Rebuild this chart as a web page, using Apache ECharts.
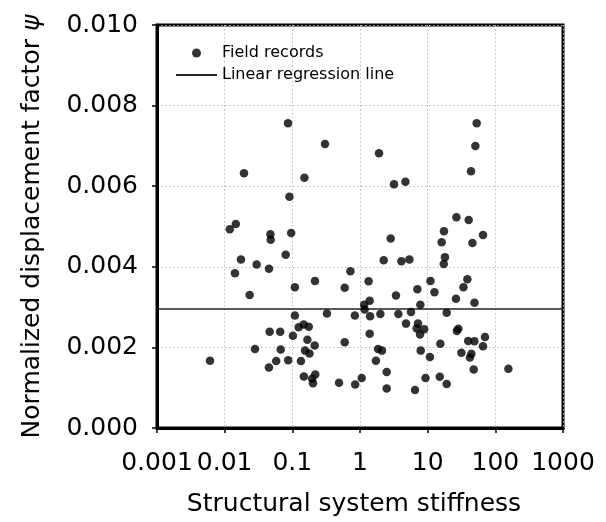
<!DOCTYPE html>
<html>
<head>
<meta charset="utf-8">
<script src="https://cdn.jsdelivr.net/npm/echarts@6/dist/echarts.min.js"></script>
<style>
  html, body { margin: 0; padding: 0; background: #fff; }
  #chart { width: 606px; height: 522px; }
</style>
</head>
<body>
<div id="chart"></div>
<script>
// Structural system stiffness of each field record
const stiffness = [
  0.0863, 0.304, 0.0193, 0.151, 0.0906, 1.91, 3.18, 4.69, 53.0, 50.7,
  43.7, 26.6, 40.4, 0.0146, 0.0119, 0.0474, 0.0479, 0.0962, 0.0174, 0.0142,
  0.0297, 0.0452, 0.0798, 0.0234, 0.109, 0.216, 0.594, 0.721, 0.109, 0.325,
  0.839, 0.124, 0.147, 0.175, 0.0462, 0.0662, 0.102, 0.167, 0.214, 0.594,
  0.0281, 0.0673, 0.154, 0.179, 0.00607, 0.0577, 0.0869, 0.134, 0.0451, 0.148,
  0.218, 0.196, 0.202, 0.490, 0.849, 2.84, 17.4, 16.1, 65.7, 45.9,
  2.24, 4.09, 5.37, 18.0, 17.3, 1.34, 11.0, 38.6, 7.05, 12.6,
  33.8, 3.40, 26.2, 1.39, 1.15, 1.17, 7.80, 49.2, 1.41, 2.00,
  3.69, 5.67, 19.1, 4.79, 7.19, 6.88, 8.89, 7.71, 27.0, 28.4,
  1.39, 15.4, 39.7, 49.0, 70.3, 65.7, 1.85, 2.11, 7.89, 31.5,
  44.3, 42.1, 10.8, 1.72, 47.9, 156, 2.48, 1.06, 9.29, 15.1,
  19.1, 2.48, 6.50
];

// Normalized displacement factor psi of each field record
const psi = [
  0.00756, 0.00705, 0.00632, 0.00621, 0.00574, 0.00682, 0.00605, 0.00611, 0.00756, 0.00700,
  0.00637, 0.00523, 0.00516, 0.00506, 0.00493, 0.00481, 0.00467, 0.00484, 0.00418, 0.00384,
  0.00406, 0.00395, 0.00430, 0.00330, 0.00349, 0.00365, 0.00348, 0.00389, 0.00279, 0.00284,
  0.00279, 0.00250, 0.00257, 0.00251, 0.00239, 0.00239, 0.00229, 0.00219, 0.00205, 0.00213,
  0.00196, 0.00195, 0.00192, 0.00185, 0.00167, 0.00166, 0.00168, 0.00166, 0.00150, 0.00128,
  0.00133, 0.00122, 0.00111, 0.00112, 0.00108, 0.00470, 0.00488, 0.00461, 0.00479, 0.00459,
  0.00416, 0.00414, 0.00418, 0.00424, 0.00407, 0.00364, 0.00365, 0.00369, 0.00344, 0.00337,
  0.00349, 0.00329, 0.00321, 0.00316, 0.00306, 0.00294, 0.00306, 0.00311, 0.00277, 0.00283,
  0.00283, 0.00288, 0.00286, 0.00259, 0.00259, 0.00247, 0.00245, 0.00232, 0.00241, 0.00246,
  0.00234, 0.00209, 0.00216, 0.00215, 0.00226, 0.00203, 0.00196, 0.00192, 0.00192, 0.00187,
  0.00184, 0.00175, 0.00176, 0.00167, 0.00145, 0.00147, 0.00139, 0.00124, 0.00124, 0.00127,
  0.00109, 0.00098, 0.00094
];

// Regression line: constant psi across the whole stiffness range
const regressionX = [0.001, 1000];
const regressionY = [0.00295, 0.00295];

const xTickLabels = ['0.001', '0.01', '0.1', '1', '10', '100', '1000'];
const yTickLabels = ['0.000', '0.002', '0.004', '0.006', '0.008', '0.010'];

const FONT = 'DejaVu Sans';

const chart = echarts.init(document.getElementById('chart'), null, { renderer: 'canvas' });

const scatterData = stiffness.map((s, i) => [s, psi[i]]);
const lineData = regressionX.map((x, i) => [x, regressionY[i]]);

chart.setOption({
  animation: false,
  backgroundColor: '#ffffff',
  textStyle: { fontFamily: FONT, color: '#000' },
  grid: {
    left: 157, right: 43, top: 25, bottom: 90,
    show: true, borderColor: '#000', borderWidth: 3, backgroundColor: 'transparent'
  },
  legend: {
    orient: 'vertical',
    left: 170, top: 40,
    itemWidth: 41, itemHeight: 9,
    itemGap: 6,
    textStyle: { fontFamily: FONT, fontSize: 16, color: '#000' },
    data: [
      { name: 'Field records', icon: 'circle' },
      // line-only key: hide the marker the line series adds to its icon
      { name: 'Linear regression line', itemStyle: { opacity: 0 } }
    ]
  },
  xAxis: {
    type: 'log',
    logBase: 10,
    min: 0.001,
    max: 1000,
    name: 'Structural system stiffness',
    nameLocation: 'middle',
    nameGap: 64,
    nameTextStyle: { fontFamily: FONT, fontSize: 25, color: '#000', padding: [0, 12, 0, 0] },
    axisLine: { show: true, onZero: false, lineStyle: { color: '#000', width: 3 } },
    axisTick: { show: true, inside: false, length: 5, lineStyle: { color: '#000', width: 1.5 } },
    minorTick: { show: false },
    axisLabel: {
      margin: 23,
      fontFamily: FONT, fontSize: 25, color: '#000',
      formatter: v => xTickLabels[Math.round(Math.log10(v)) + 3]
    },
    splitLine: { show: true, lineStyle: { color: '#bdbdbd', width: 1, type: [1.5, 2.5] } }
  },
  yAxis: {
    type: 'value',
    min: 0,
    max: 0.01,
    interval: 0.002,
    name: 'Normalized displacement factor {i|ψ}',
    nameLocation: 'middle',
    nameGap: 112,
    nameTextStyle: {
      fontFamily: FONT, fontSize: 25, color: '#000',
      rich: { i: { fontFamily: FONT, fontSize: 25, fontStyle: 'italic', color: '#000' } }
    },
    axisLine: { show: true, onZero: false, lineStyle: { color: '#000', width: 3 } },
    axisTick: { show: true, inside: false, length: 5, lineStyle: { color: '#000', width: 1.5 } },
    axisLabel: {
      margin: 19,
      fontFamily: FONT, fontSize: 25, color: '#000',
      formatter: v => yTickLabels[Math.round(v / 0.002)]
    },
    splitLine: { show: true, lineStyle: { color: '#bdbdbd', width: 1, type: [1.5, 2.5] } }
  },
  series: [
    {
      name: 'Field records',
      type: 'scatter',
      data: scatterData,
      symbol: 'circle',
      symbolSize: 8.5,
      itemStyle: { color: '#000' },
      z: 3
    },
    {
      name: 'Linear regression line',
      type: 'line',
      data: lineData,
      symbol: 'none',
      showSymbol: false,
      lineStyle: { color: '#222', width: 1.5 },
      itemStyle: { color: '#222' },
      z: 2
    }
  ]
});
</script>
</body>
</html>
